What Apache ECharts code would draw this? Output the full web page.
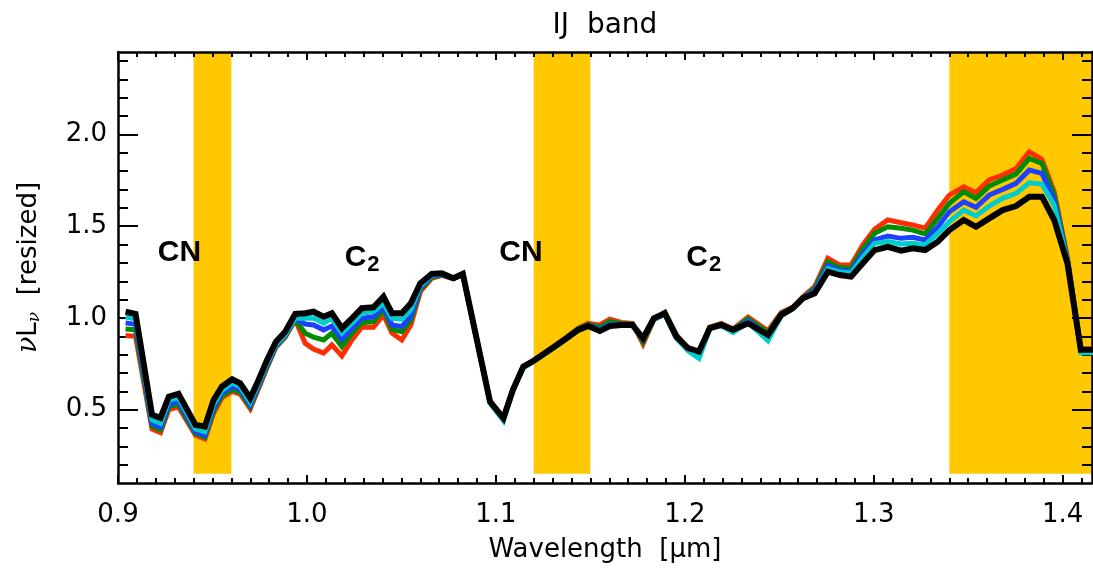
<!DOCTYPE html>
<html>
<head>
<meta charset="utf-8">
<script src="https://cdn.jsdelivr.net/npm/echarts@6/dist/echarts.min.js"></script>
<style>html,body{margin:0;padding:0;background:#fff;}#c{width:1093px;height:569px;}</style>
</head>
<body>
<div id="c"></div>
<script>
// ---- data ----
const wavelength = [0.9040,0.9093,0.9180,0.9225,0.9269,0.9320,0.9410,0.9460,0.9506,0.9550,0.9604,0.9647,0.9700,0.9744,0.9789,0.9836,0.9885,0.9938,0.9991,1.0035,1.0088,1.0132,1.0185,1.0238,1.0290,1.0352,1.0405,1.0450,1.0502,1.0550,1.0600,1.0660,1.0714,1.0775,1.0825,1.0969,1.1040,1.1090,1.1145,1.1198,1.1312,1.1374,1.1436,1.1488,1.1550,1.1603,1.1665,1.1723,1.1779,1.1836,1.1894,1.1955,1.2017,1.2075,1.2132,1.2193,1.2255,1.2335,1.2440,1.2510,1.2572,1.2625,1.2687,1.2757,1.2819,1.2880,1.2942,1.3004,1.3074,1.3145,1.3206,1.3272,1.3339,1.3400,1.3476,1.3541,1.3611,1.3682,1.3753,1.3823,1.3890,1.3955,1.4025,1.4096,1.4160];
const redVals   = [.904,.900,.395,.375,.500,.515,.360,.340,.480,.565,.600,.585,.505,.615,.730,.840,.895,.990,.862,.830,.808,.853,.793,.880,.949,.949,1.016,.917,.880,.962,1.143,1.216,1.232,1.214,1.238,.545,.452,.610,.737,.768,.850,.895,.945,.970,.962,.993,.975,.970,.858,.990,1.030,.910,.830,.800,.950,.970,.940,1.005,.930,1.030,1.060,1.115,1.170,1.325,1.289,1.289,1.398,1.483,1.534,1.519,1.507,1.489,1.588,1.670,1.715,1.683,1.752,1.779,1.815,1.906,1.864,1.688,1.330,.830,.830];
const greenVals = [.940,.935,.410,.390,.515,.530,.370,.350,.495,.575,.610,.595,.515,.625,.735,.845,.900,.990,.917,.895,.880,.917,.844,.918,.974,.980,1.044,.938,.925,.990,1.155,1.222,1.235,1.215,1.238,.544,.450,.608,.735,.766,.848,.893,.942,.965,.950,.980,.970,.967,.870,.993,1.028,.905,.828,.795,.948,.967,.935,.995,.920,1.025,1.057,1.112,1.160,1.305,1.275,1.270,1.375,1.461,1.497,1.489,1.479,1.458,1.543,1.625,1.688,1.652,1.719,1.752,1.784,1.870,1.843,1.670,1.320,.825,.825];
const blueVals  = [.973,.965,.425,.405,.530,.545,.380,.360,.510,.590,.625,.610,.525,.635,.745,.850,.905,.995,.967,.962,.935,.956,.884,.944,.998,1.007,1.062,.962,.953,1.010,1.165,1.228,1.237,1.215,1.239,.542,.448,.605,.732,.764,.846,.890,.938,.960,.940,.965,.965,.964,.880,.995,1.025,.900,.825,.790,.945,.964,.930,.985,.905,1.020,1.054,1.110,1.150,1.285,1.260,1.255,1.350,1.425,1.447,1.434,1.440,1.425,1.497,1.579,1.633,1.603,1.670,1.701,1.734,1.806,1.788,1.643,1.315,.820,.820];
const cyanVals  = [1.005,.995,.445,.425,.550,.565,.395,.380,.530,.605,.645,.625,.540,.645,.755,.855,.910,1.000,.998,1.000,.971,.998,.917,.971,1.026,1.034,1.080,.998,.993,1.044,1.175,1.233,1.240,1.216,1.239,.535,.440,.600,.728,.760,.842,.887,.933,.955,.935,.960,.962,.962,.885,.990,1.020,.890,.820,.780,.940,.958,.920,.975,.876,1.012,1.050,1.105,1.140,1.270,1.250,1.245,1.330,1.407,1.416,1.403,1.407,1.398,1.461,1.525,1.588,1.556,1.610,1.652,1.679,1.737,1.730,1.615,1.305,.810,.810];
const blackVals = [1.034,1.022,.472,.455,.571,.586,.417,.408,.553,.626,.666,.644,.563,.662,.771,.871,.925,1.022,1.026,1.034,1.007,1.026,.944,.998,1.053,1.058,1.116,1.026,1.026,1.080,1.189,1.240,1.243,1.216,1.240,.544,.454,.608,.735,.765,.844,.889,.935,.956,.929,.956,.962,.962,.889,.998,1.026,.898,.835,.817,.944,.962,.935,.971,.907,1.016,1.053,1.107,1.134,1.252,1.234,1.225,1.298,1.370,1.388,1.367,1.380,1.370,1.416,1.479,1.534,1.497,1.543,1.588,1.610,1.661,1.661,1.534,1.298,.826,.826];

const bandStarts = [0.94, 1.12, 1.34];
const bandEnds   = [0.96, 1.15, 1.4155];
const bandLow = 0.15;

const xTickLabels = [0.9, 1.0, 1.1, 1.2, 1.3, 1.4];
const yTickLabels = [0.5, 1.0, 1.5, 2.0];
const xRange = [0.9, 1.4155];
const yRange = [0.1, 2.45];

const annotations = [
  {text: 'CN', x: 0.9325, y: 1.354, sub: ''},
  {text: 'C', x: 1.0292, y: 1.330, sub: '2'},
  {text: 'CN', x: 1.1133, y: 1.354, sub: ''},
  {text: 'C', x: 1.2100, y: 1.330, sub: '2'}
];

// ---- build ----
const xMinor = [];
for (let i = 0; i <= 51; i++) { const v = +(0.9 + i * 0.01).toFixed(3); if (v <= xRange[1]) xMinor.push(v); }
const yMinor = [];
for (let i = 1; i <= 24; i++) { const v = +(0.1 + i * 0.1).toFixed(3); if (v <= yRange[1] && Math.abs(v*2 - Math.round(v*2)) > 1e-6) yMinor.push(v); }

const FONT = 'DejaVu Sans';
const axisLineStyle = {color: '#000', width: 2.5};

function xAx(pos, ticks, len, showLine, showLabel) {
  return {
    type: 'value', position: pos, min: xRange[0], max: xRange[1], z: 1,
    axisLine: {show: showLine, onZero: false, lineStyle: axisLineStyle},
    axisTick: {show: true, inside: true, length: len, customValues: ticks, lineStyle: {color: '#000', width: 2}},
    axisLabel: showLabel ? {show: true, customValues: ticks, formatter: v => v.toFixed(1), fontFamily: FONT, fontSize: 26, color: '#000', margin: 19} : {show: false},
    splitLine: {show: false}
  };
}
function yAx(pos, ticks, len, showLine, showLabel) {
  return {
    type: 'value', position: pos, min: yRange[0], max: yRange[1], z: 1,
    axisLine: {show: showLine, onZero: false, lineStyle: axisLineStyle},
    axisTick: {show: true, inside: true, length: len, customValues: ticks, lineStyle: {color: '#000', width: 2}},
    axisLabel: showLabel ? {show: true, customValues: ticks, formatter: v => v.toFixed(1), fontFamily: FONT, fontSize: 26, color: '#000', margin: 11} : {show: false},
    splitLine: {show: false}
  };
}

const xAxes = [xAx('bottom', xTickLabels, 8, true, true), xAx('bottom', xMinor, 5, false, false), xAx('top', xTickLabels, 8, true, false), xAx('top', xMinor, 5, false, false)];
xAxes[0].name = 'Wavelength  [μm]';
xAxes[0].nameLocation = 'middle';
xAxes[0].nameGap = 54;
xAxes[0].nameTextStyle = {fontFamily: FONT, fontSize: 26, color: '#000'};

const yAxes = [yAx('left', yTickLabels, 20, true, true), yAx('left', yMinor, 10, false, false), yAx('right', yTickLabels, 20, true, false), yAx('right', yMinor, 10, false, false)];
yAxes[0].name = '{g|ν}L{s|ν}  [resized]';
yAxes[0].nameLocation = 'middle';
yAxes[0].nameGap = 75;
yAxes[0].nameTextStyle = {fontFamily: FONT, fontSize: 26, color: '#000', rich: {
  g: {fontFamily: 'DejaVu Serif', fontStyle: 'italic', fontSize: 27, color: '#000'},
  s: {fontFamily: 'DejaVu Serif', fontStyle: 'italic', fontSize: 17, color: '#000', padding: [11, 0, 0, 0]}
}};

function pairs(vals) { return wavelength.map((w, i) => [w, vals[i]]); }

const seriesDefs = [
  {name: 'red', color: '#FF2E00', vals: redVals, width: 5},
  {name: 'green', color: '#008C00', vals: greenVals, width: 5},
  {name: 'blue', color: '#1E40FF', vals: blueVals, width: 5},
  {name: 'cyan', color: '#00CCCC', vals: cyanVals, width: 5},
  {name: 'black', color: '#000000', vals: blackVals, width: 6}
];

const series = [{
  type: 'line', data: [], z: 0, silent: true,
  markArea: {silent: true, itemStyle: {color: '#FFC800', opacity: 1}, data: bandStarts.map((s, i) => [{xAxis: s, yAxis: bandLow}, {xAxis: bandEnds[i], yAxis: yRange[1]}])}
}];
seriesDefs.forEach(d => series.push({
  type: 'line', name: d.name, data: pairs(d.vals), showSymbol: false, symbol: 'none', z: 2,
  lineStyle: {color: d.color, width: d.width, join: 'miter', cap: 'butt'}, silent: true
}));
series.push({
  type: 'scatter', data: annotations.map(a => [a.x, a.y]), symbolSize: 0, z: 3, silent: true,
  itemStyle: {opacity: 1, color: '#000'},
  label: {show: true, position: 'inside', color: '#000', opacity: 1, formatter: p => {
    const a = annotations[p.dataIndex];
    return a.sub ? '{b|' + a.text + '}{s|' + a.sub + '}' : '{b|' + a.text + '}';
  }, rich: {
    b: {fontFamily: 'Liberation Sans', fontWeight: 'bold', fontSize: 30, color: '#000'},
    s: {fontFamily: 'Liberation Sans', fontWeight: 'bold', fontSize: 22, color: '#000', padding: [16, 0, 0, 1]}
  }}
});

const chart = echarts.init(document.getElementById('c'), null, {renderer: 'canvas'});
chart.setOption({
  animation: false,
  backgroundColor: '#fff',
  grid: {left: 118, right: 1, top: 52, bottom: 86, containLabel: false},
  graphic: [{type: 'text', x: 605, y: 26, style: {text: 'IJ  band', font: '28px "DejaVu Sans"', fill: '#000', textAlign: 'center', textVerticalAlign: 'middle'}}],
  xAxis: xAxes,
  yAxis: yAxes,
  series: series
});
</script>
</body>
</html>
